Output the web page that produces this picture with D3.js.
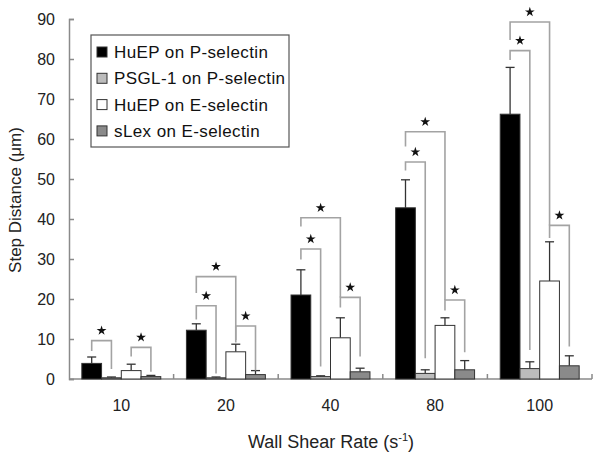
<!DOCTYPE html>
<html>
<head>
<meta charset="utf-8">
<script src="https://cdn.jsdelivr.net/npm/d3@7"></script>
<style>
	body { margin: 0; background: #fff; }
	text { font-family: 'Liberation Sans', Arial, sans-serif; }
</style>
</head>
<body>
<div id="chart"></div>
<script>
const width = 602;
const height = 459;
const margin = { top: 19, right: 10, bottom: 80, left: 69 };

// DATA =================================================================
const rates = ['10', '20', '40', '80', '100'];
const seriesNames = ['HuEP on P-selectin', 'PSGL-1 on P-selectin', 'HuEP on E-selectin', 'sLex on E-selectin'];
const seriesColors = ['#000000', '#bcbcbc', '#ffffff', '#8a8a8a'];

// mean step distance per rate, one array per series
const huepP = [3.9, 12.2, 21.0, 42.8, 66.2];
const psglP = [0.3, 0.3, 0.6, 1.4, 2.6];
const huepE = [2.1, 6.8, 10.3, 13.4, 24.5];
const slexE = [0.6, 1.1, 1.8, 2.3, 3.3];

// top of error bar
const huepPErr = [5.5, 13.8, 27.3, 49.8, 77.9];
const psglPErr = [0.5, 0.5, 0.8, 2.3, 4.3];
const huepEErr = [3.7, 8.7, 15.3, 15.3, 34.3];
const slexEErr = [0.9, 2.1, 2.7, 4.6, 5.8];

const yTicks = [0, 10, 20, 30, 40, 50, 60, 70, 80, 90];

// significance brackets: [rate index, from series, to series, level, left leg end, right leg end]
const brackets = [
	[0, 0, 1, 9.6, 7.0, 2.5],
	[0, 2, 3, 7.9, 5.6, 1.8],
	[1, 0, 1, 18.3, 14.9, 1.4],
	[1, 0, 2, 25.6, 21.5, 9.1],
	[1, 2, 3, 13.25, 9.75, 2.1],
	[2, 0, 1, 32.5, 29.9, 3.1],
	[2, 0, 2, 40.3, 38.1, 20.4],
	[2, 2, 3, 20.4, 17.9, 5.6],
	[3, 0, 1, 54.25, 52.1, 5.2],
	[3, 0, 2, 61.8, 58.1, 19.75],
	[3, 2, 3, 19.75, 17.1, 6.7],
	[4, 0, 1, 82.1, 79.75, 7.25],
	[4, 0, 2, 89.25, 84.75, 38.4],
	[4, 2, 3, 38.4, 35.25, 8.1],
];

const means = [huepP, psglP, huepE, slexE];
const errs = [huepPErr, psglPErr, huepEErr, slexEErr];

const bars = [];
rates.forEach((r, i) => {
	seriesNames.forEach((s, j) => {
		bars.push({ rate: r, series: s, idx: j, value: means[j][i], err: errs[j][i] });
	});
});
// =================================================================

const svg = d3.select('#chart').append('svg').attr('width', width).attr('height', height);

const x0 = d3
	.scaleBand()
	.domain(rates)
	.range([margin.left, width - margin.right]);

const x1 = d3
	.scaleBand()
	.domain(seriesNames)
	.range([0, x0.bandwidth()])
	.paddingOuter(0.65);

const y = d3
	.scaleLinear()
	.domain([0, 90])
	.range([height - margin.bottom, margin.top]);

const barCenter = (ri, si) => x0(rates[ri]) + x1(seriesNames[si]) + x1.bandwidth() / 2;

// AXES =================================================================
const axisColor = '#8a8a8a';

const yAxis = svg
	.append('g')
	.attr('transform', `translate(${margin.left},0)`)
	.call(d3.axisRight(y).tickValues(yTicks).tickSize(5).tickFormat(''));
yAxis.select('.domain').attr('stroke', axisColor).attr('stroke-width', 1.5);
yAxis.selectAll('.tick line').attr('stroke', axisColor).attr('stroke-width', 1.5);

svg.append('g')
	.selectAll('text')
	.data(yTicks)
	.join('text')
	.attr('x', margin.left - 14)
	.attr('y', (d) => y(d) + 6)
	.attr('text-anchor', 'end')
	.style('font-size', '16px')
	.attr('fill', '#222')
	.text((d) => d);

// x axis line with small ticks between groups
svg.append('line')
	.attr('x1', margin.left)
	.attr('x2', width - margin.right)
	.attr('y1', y(0))
	.attr('y2', y(0))
	.attr('stroke', axisColor)
	.attr('stroke-width', 1.5);

svg.append('g')
	.selectAll('line')
	.data(rates)
	.join('line')
	.attr('x1', (d) => x0(d) + x0.bandwidth())
	.attr('x2', (d) => x0(d) + x0.bandwidth())
	.attr('y1', y(0))
	.attr('y2', y(0) - 5)
	.attr('stroke', axisColor)
	.attr('stroke-width', 1.5);

svg.append('g')
	.selectAll('text')
	.data(rates)
	.join('text')
	.attr('x', (d) => x0(d) + x0.bandwidth() / 2)
	.attr('y', y(0) + 32)
	.attr('text-anchor', 'middle')
	.style('font-size', '16px')
	.attr('fill', '#222')
	.text((d) => d);

// axis titles
const xTitle = svg
	.append('text')
	.attr('x', 331)
	.attr('y', 448)
	.attr('text-anchor', 'middle')
	.style('font-size', '18px')
	.attr('fill', '#222');
xTitle.append('tspan').text('Wall Shear Rate (s');
xTitle.append('tspan').attr('dy', -7).style('font-size', '11px').text('-1');
xTitle.append('tspan').attr('dy', 7).text(')');

svg.append('text')
	.attr('transform', 'translate(21,200) rotate(-90)')
	.attr('text-anchor', 'middle')
	.style('font-size', '17px')
	.attr('fill', '#222')
	.text('Step Distance (\u03bcm)');
// =================================================================

// BARS =================================================================
const errLine = '#333';

svg.append('g')
	.selectAll('line')
	.data(bars)
	.join('line')
	.attr('x1', (d) => x0(d.rate) + x1(d.series) + x1.bandwidth() / 2)
	.attr('x2', (d) => x0(d.rate) + x1(d.series) + x1.bandwidth() / 2)
	.attr('y1', (d) => y(d.value))
	.attr('y2', (d) => y(d.err))
	.attr('stroke', errLine)
	.attr('stroke-width', 1.3);

svg.append('g')
	.selectAll('line')
	.data(bars)
	.join('line')
	.attr('x1', (d) => x0(d.rate) + x1(d.series) + x1.bandwidth() / 2 - 4.5)
	.attr('x2', (d) => x0(d.rate) + x1(d.series) + x1.bandwidth() / 2 + 4.5)
	.attr('y1', (d) => y(d.err))
	.attr('y2', (d) => y(d.err))
	.attr('stroke', errLine)
	.attr('stroke-width', 1.3);

svg.append('g')
	.selectAll('rect')
	.data(bars)
	.join('rect')
	.attr('x', (d) => x0(d.rate) + x1(d.series))
	.attr('y', (d) => y(d.value))
	.attr('width', x1.bandwidth())
	.attr('height', (d) => y(0) - y(d.value))
	.attr('fill', (d) => seriesColors[d.idx])
	.attr('stroke', '#333')
	.attr('stroke-width', 1);
// =================================================================

// SIGNIFICANCE BRACKETS ================================================
const bracketGroup = svg.append('g');

bracketGroup
	.selectAll('path')
	.data(brackets)
	.join('path')
	.attr('d', (b) => {
		const xa = barCenter(b[0], b[1]);
		const xb = barCenter(b[0], b[2]);
		return `M${xa},${y(b[4])}V${y(b[3])}H${xb}V${y(b[5])}`;
	})
	.attr('fill', 'none')
	.attr('stroke', '#a3a3a3')
	.attr('stroke-width', 1.6);

// stars drawn as filled five-point symbols
const star = d3.symbol().type(d3.symbolStar).size(30);

bracketGroup
	.selectAll('.star')
	.data(brackets)
	.join('path')
	.attr('class', 'star')
	.attr('transform', (b) => {
		const cx = (barCenter(b[0], b[1]) + barCenter(b[0], b[2])) / 2;
		return `translate(${cx},${y(b[3]) - 10})`;
	})
	.attr('d', star)
	.attr('fill', '#111');
// =================================================================

// LEGEND =================================================================
const legend = svg.append('g').attr('transform', 'translate(91,35)');

legend
	.append('rect')
	.attr('width', 198)
	.attr('height', 112)
	.attr('fill', '#fff')
	.attr('stroke', '#555')
	.attr('stroke-width', 1.2);

const items = legend
	.selectAll('g')
	.data(seriesNames)
	.join('g')
	.attr('transform', (d, i) => `translate(0,${17 + i * 26.3})`);

items
	.append('rect')
	.attr('x', 6)
	.attr('y', -5)
	.attr('width', 10)
	.attr('height', 10)
	.attr('fill', (d, i) => seriesColors[i])
	.attr('stroke', '#333')
	.attr('stroke-width', 1);

items
	.append('text')
	.attr('x', 23)
	.attr('y', 6)
	.style('font-size', '17px')
	.style('letter-spacing', '0.4px')
	.attr('fill', '#111')
	.text((d) => d);
// =================================================================
</script>
</body>
</html>
